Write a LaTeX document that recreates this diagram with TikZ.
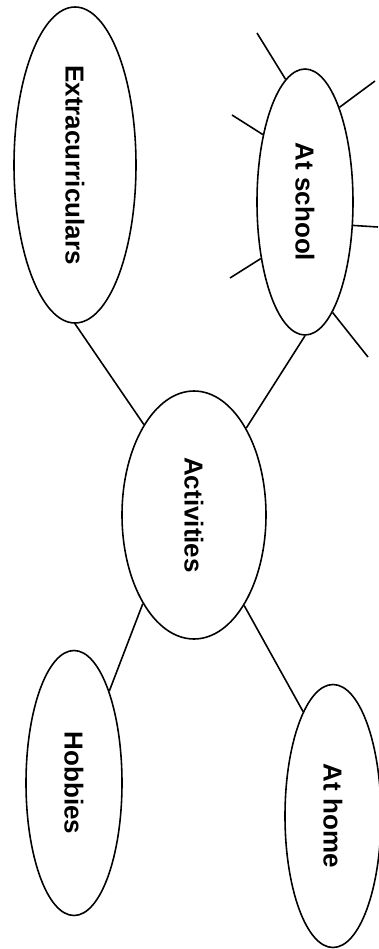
\documentclass[tikz,border=0pt]{standalone}
\usepackage{fontspec}
\setmainfont{Liberation Sans}
\usepackage{tikz}
\usetikzlibrary{shapes.geometric}
\tikzset{
	bubble/.style={draw, ellipse, inner sep=0pt, font=\bfseries\fontsize{7.4}{9}\selectfont}
}
\newcommand{\vtext}[1]{\rotatebox{-90}{#1}}

\begin{document}
\begin{tikzpicture}[line width=0.45pt]
      \useasboundingbox (0,0) rectangle (3.79,-9.49);

      % the five bubbles
      \node[bubble, minimum width=1.22cm, minimum height=3.16cm] (extra) at (0.75,-1.65) {\vtext{Extracurriculars}};
      \node[bubble, minimum width=0.96cm, minimum height=2.66cm] (school) at (3.05,-2.02) {\vtext{At school}};
      \node[bubble, minimum width=1.44cm, minimum height=2.48cm] (act) at (1.94,-5.15) {\vtext{Activities}};
      \node[bubble, minimum width=0.96cm, minimum height=2.65cm] (hobby) at (0.74,-7.83) {\vtext{Hobbies}};
      \node[bubble, minimum width=0.96cm, minimum height=2.63cm] (home) at (3.33,-8.16) {\vtext{At home}};

      % links to the centre
      \draw (extra.south) -- (act.119);
      \draw (school.south) -- (act.59);
      \draw (act.240) -- (hobby.69);
      \draw (act.299) -- (home.106);

      % loose ends round "At school"
      \coordinate (s1) at (2.57,-0.33);
      \coordinate (s2) at (3.75,-0.81);
      \coordinate (s3) at (2.32,-1.15);
      \coordinate (s4) at (3.78,-2.27);
      \coordinate (s5) at (2.30,-2.78);
      \coordinate (s6) at (3.68,-3.57);
      \foreach \a/\s in {99/s1, 70/s2, 122/s3, -26/s4, 232/s5, 284/s6} {
        \draw (school.\a) -- (\s);
      }
    \end{tikzpicture}
\end{document}
